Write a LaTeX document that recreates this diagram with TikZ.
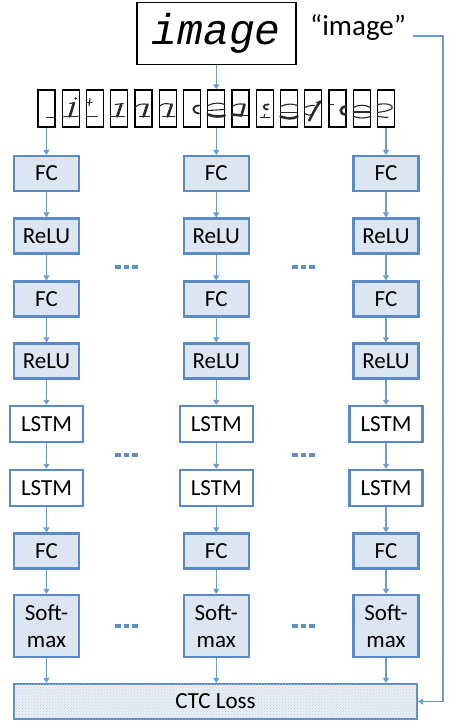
\documentclass[tikz,border=0pt]{standalone}
\usepackage{fontspec}
\setmainfont{Carlito}
\newfontfamily\imgfont{Liberation Mono}
\usetikzlibrary{arrows.meta,patterns}
\definecolor{bord}{HTML}{5B8BC7}
\definecolor{boxfill}{HTML}{DCE6F2}
\definecolor{arrcol}{HTML}{6A9BD1}
\definecolor{ctcfill}{HTML}{EAF0F7}
\definecolor{ctcdots}{HTML}{B9CBE0}
\definecolor{ink}{HTML}{2A2A2A}
\definecolor{dotblue}{HTML}{5E8FCB}
\begin{document}
\begin{tikzpicture}[x=1bp,y=-1bp,
  lay/.style={draw=bord, line width=2.2bp, font=\fontsize{23bp}{27bp}\selectfont, inner sep=0pt, align=center},
  fcbox/.style={lay, fill=boxfill, minimum width=65bp, minimum height=35bp},
  lstmbox/.style={lay, fill=white, line width=2.5bp, minimum width=73bp, minimum height=36bp},
  smbox/.style={fcbox, minimum height=62bp},
  ctcbox/.style={lay, fill=ctcfill, postaction={pattern=crosshatch dots, pattern color=ctcdots}, minimum width=403bp, minimum height=35bp},
  winbox/.style={draw=black, line width=1.3bp, minimum width=17bp, minimum height=37bp, inner sep=0pt},
  arr/.style={draw=arrcol, line width=1.5bp, -{Triangle[width=6bp,length=5bp]}},
  glyph/.style={draw=ink, line width=1.1bp, line cap=round},
  heavy/.style={draw=ink, line width=2.6bp, line cap=round},
  dotsq/.style={fill=dotblue}
]
\useasboundingbox (0,0) rectangle (454,728);

% input image
\node[draw=black, line width=1.5bp, minimum width=159bp, minimum height=62bp, inner sep=0pt,
      font=\imgfont\itshape\fontsize{43bp}{43bp}\selectfont] (img) at (216.25,33.5) {image};
\node[anchor=base west, inner sep=0pt, font=\fontsize{29bp}{29bp}\selectfont] (lbl) at (310,36) {“image”};

% sliding windows
\foreach \k in {1,...,15} {
  \node[winbox] (f\k) at ({46.5+(\k-1)*24.25},108.5) {};
}
\begin{scope}[shift={(f1.center)}]
  \draw[glyph] (0,9) -- (8.5,9);
\end{scope}
\begin{scope}[shift={(f2.center)}]
  \draw[glyph] (-7,8) -- (7,8);
  \draw[heavy] (3,-5) -- (-1,8);
  \draw[glyph] (-1,-5) -- (4,-6);
  \fill[ink] (5,-10) circle (1.3bp);
\end{scope}
\begin{scope}[shift={(f3.center)}]
  \draw[glyph] (-5,-10) -- (-6,-3);
  \draw[glyph] (-8.5,-6) -- (-3,-6);
  \draw[glyph] (-8.5,8) -- (2,8);
\end{scope}
\begin{scope}[shift={(f4.center)}]
  \draw[heavy] (2,-4) -- (-2,8);
  \draw[glyph] (-4,-4) -- (4,-5);
  \draw[glyph] (-8,8) -- (5,8);
\end{scope}
\begin{scope}[shift={(f5.center)}]
  \draw[glyph] (-8.5,-1) .. controls (-5,-5) and (0,-5) .. (4,-4);
  \draw[heavy] (4,-4) -- (0,8);
  \draw[glyph] (-4,8) -- (6,8);
\end{scope}
\begin{scope}[shift={(f6.center)}]
  \draw[glyph] (-8.5,-2) .. controls (-5,-6) and (0,-5) .. (4,-4);
  \draw[heavy] (4,-4) -- (0,8);
  \draw[glyph] (-5,8) -- (7,8);
\end{scope}
\begin{scope}[shift={(f7.center)}]
  \draw[ink, line width=1.9bp, line cap=round] (7,-3) .. controls (0,-3) and (-1,4) .. (7,5);
  \draw[glyph] (7,-3) -- (8.5,-3);
\end{scope}
\begin{scope}[shift={(f8.center)}]
  \draw[glyph] (-8.5,-3) .. controls (-2,-6) and (4,-6) .. (8.5,-4);
  \draw[glyph] (-8.5,2) -- (8.5,1);
  \draw[heavy] (-8.5,6) .. controls (-2,8.5) and (4,8.5) .. (8.5,7);
\end{scope}
\begin{scope}[shift={(f9.center)}]
  \draw[glyph] (-8.5,-2) .. controls (-4,-5) and (1,-5) .. (4,-4);
  \draw[heavy] (4,-4) -- (1,7);
  \draw[heavy] (-8.5,6) -- (1,7);
  \draw[glyph] (1,7) -- (7,7);
\end{scope}
\begin{scope}[shift={(f10.center)}]
  \draw[ink, line width=1.8bp, line cap=round] (4,-4) .. controls (-2,-5) and (-3,1) .. (3,1);
  \draw[glyph] (-4,9) -- (5,9);
  \draw[glyph] (-1,9) -- (0,6);
\end{scope}
\begin{scope}[shift={(f11.center)}]
  \draw[glyph] (-8.5,-2) .. controls (-3,-5) and (4,-5) .. (8.5,-3);
  \draw[glyph] (-8.5,4) -- (8.5,4);
  \draw[heavy] (-8.5,8) .. controls (-2,10.5) and (4,10.5) .. (8.5,8);
\end{scope}
\begin{scope}[shift={(f12.center)}]
  \draw[glyph] (-8.5,-1) .. controls (-5,-3) and (-1,-3) .. (1,-3);
  \draw[glyph] (-8.5,5) .. controls (-5,7) and (-2,7) .. (0,6);
  \draw[heavy] (7,-7) .. controls (3,-2) and (-1,6) .. (-4,12);
  \draw[glyph] (3,-6) -- (7,-7);
\end{scope}
\begin{scope}[shift={(f13.center)}]
  \draw[glyph] (-8,-4) -- (-4,-4);
  \draw[heavy] (8.5,-2) .. controls (2,-2) and (1,6) .. (8.5,6);
\end{scope}
\begin{scope}[shift={(f14.center)}]
  \draw[glyph] (-8.5,-1) .. controls (-3,-4) and (4,-4) .. (8.5,-1);
  \draw[glyph] (-8.5,3.5) -- (8.5,3.5);
  \draw[glyph] (-8.5,8) .. controls (-2,10) and (4,10) .. (8.5,8);
\end{scope}
\begin{scope}[shift={(f15.center)}]
  \draw[glyph] (-8.5,-4) .. controls (2,-6) and (8,-3) .. (6,0) .. controls (4,2) and (-2,3) .. (-8.5,4);
  \draw[glyph] (-8.5,8) -- (2,9);
\end{scope}

\draw[arr] (img) -- (f8);

% columns
\foreach \c/\x/\f in {1/46.5/1, 2/216.25/8, 3/386/15} {
  \node[fcbox]   (c\c-1) at (\x,173.5) {FC};
  \node[fcbox]   (c\c-2) at (\x,236) {ReLU};
  \node[fcbox]   (c\c-3) at (\x,299) {FC};
  \node[fcbox]   (c\c-4) at (\x,361) {ReLU};
  \node[lstmbox] (c\c-5) at (\x,424) {LSTM};
  \node[lstmbox] (c\c-6) at (\x,488) {LSTM};
  \node[fcbox]   (c\c-7) at (\x,551) {FC};
  \node[smbox]   (c\c-8) at (\x,626) {Soft-\\max};
  \draw[arr] (f\f) -- (c\c-1);
  \draw[arr] (c\c-1) -- (c\c-2);
  \draw[arr] (c\c-2) -- (c\c-3);
  \draw[arr] (c\c-3) -- (c\c-4);
  \draw[arr] (c\c-4) -- (c\c-5);
  \draw[arr] (c\c-5) -- (c\c-6);
  \draw[arr] (c\c-6) -- (c\c-7);
  \draw[arr] (c\c-7) -- (c\c-8);
}

\node[ctcbox] (ctc) at (215.5,701.5) {CTC Loss};
\foreach \c in {1,2,3} {
  \draw[arr] (c\c-8) -- (c\c-8.south |- ctc.north);
}

% label to loss
\coordinate (rc) at (443,701.5);
\draw[arr] ([xshift=7bp]lbl.base east) -| (rc) -- (ctc);

% ellipses between columns
\foreach \dx in {126.5,303.5} {
  \foreach \dy in {267,455,626} {
    \foreach \o in {-8.5,0,8.5} {
      \fill[dotsq] ({\dx+\o-2.8},{\dy-2.3}) rectangle ({\dx+\o+2.8},{\dy+2.3});
    }
  }
}
\end{tikzpicture}
\end{document}
